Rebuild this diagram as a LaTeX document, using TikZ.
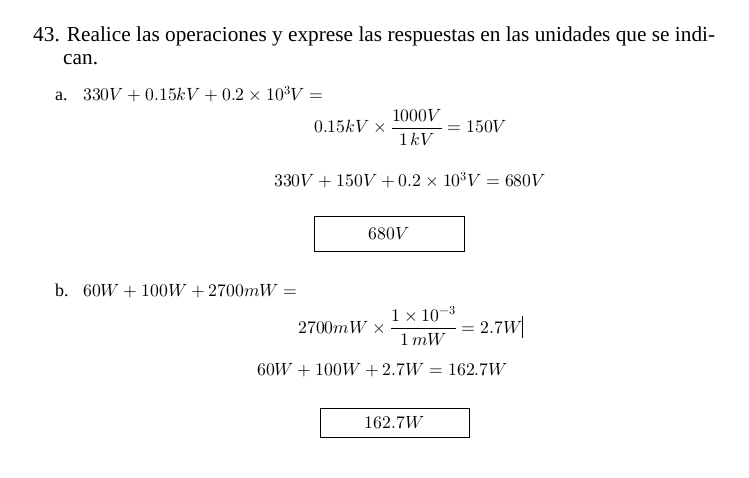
\documentclass[tikz,border=0pt]{standalone}
\usepackage{fontspec}
\usepackage{unicode-math}
\setmainfont{Liberation Serif}
\setmathfont{Latin Modern Math}
\begin{document}
\begin{tikzpicture}[x=1pt,y=-1pt,
  txt/.style={inner sep=0pt, anchor=base west, font=\fontsize{21.3}{24}\selectfont},
  lbl/.style={inner sep=0pt, anchor=base west, font=\fontsize{18}{20}\selectfont},
  eq/.style={inner sep=0pt, anchor=base west, font=\fontsize{17.7}{21}\selectfont},
  ansbox/.style={draw, line width=0.9pt, inner sep=0pt, font=\fontsize{17.7}{21}\selectfont}]
\useasboundingbox[fill=white] (0,0) rectangle (749,478);
\node[txt] (head1) at (33,42) {43. Realice las operaciones y exprese las respuestas en las unidades que se indi-};
\node[txt] (head2) at (63,65) {can.};
% a
\node[lbl] (la) at (55,101) {a.};
\node[eq] (a1) at (83,101) {$330V+0.15kV+0.2\times10^{3}V=$};
\node[eq] (a2) at (314,133) {$\displaystyle 0.15kV\times\frac{1000V}{1\,kV}=150V$};
\node[eq] (a3) at (274,187) {$330V+150V+0.2\times10^{3}V=680V$};
\node[ansbox, minimum width=150pt, minimum height=35pt] (boxa) at (389,233.5) {$680V$};
% b
\node[lbl] (lb) at (55,296) {b.};
\node[eq] (b1) at (83,296) {$60W+100W+2700mW=$};
\node[eq] (b2) at (298,333) {$\displaystyle 2700mW\times\frac{1\times10^{-3}}{1\,mW}=2.7W$};
\coordinate (cur1) at (522,316);
\coordinate (cur2) at (522,338);
\draw[line width=0.8pt] (cur1) -- (cur2);
\node[eq] (b3) at (257,375) {$60W+100W+2.7W=162.7W$};
\node[ansbox, minimum width=149pt, minimum height=29pt] (boxb) at (394.5,422.5) {$162.7W$};
\end{tikzpicture}
\end{document}
